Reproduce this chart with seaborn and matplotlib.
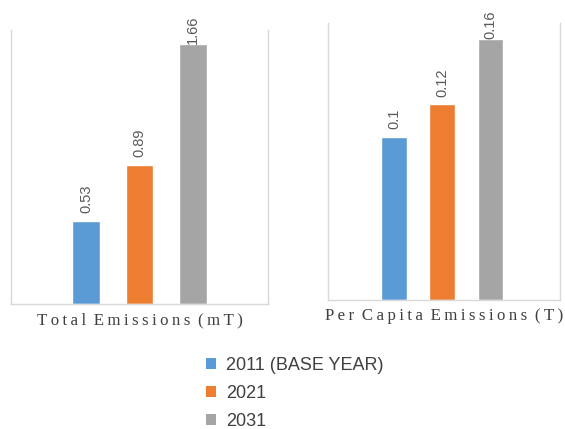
import pandas as pd
import matplotlib.pyplot as plt
import seaborn as sns
from matplotlib.patches import Patch

# Данные
years = ['2011 (BASE YEAR)', '2021', '2031']
total_emissions = [0.53, 0.89, 1.66]
per_capita = [0.1, 0.12, 0.16]
labels_total = ['0.53', '0.89', '1.66']
labels_capita = ['0.1', '0.12', '0.16']
colors = ['#5B9BD5', '#ED7D31', '#A5A5A5']

sns.set_style('white')
plt.rcParams['font.family'] = ['Liberation Sans', 'DejaVu Sans']

fig = plt.figure(figsize=(5.65, 4.29), dpi=100)
ax1 = fig.add_axes([0.0195, 0.2914, 0.455, 0.639])
ax2 = fig.add_axes([0.5805, 0.3007, 0.411, 0.6457])

panels = [
    (ax1, total_emissions, labels_total, 'Total Emissions (mT)', 1.75, (-1.40, 3.40), 0.52),
    (ax2, per_capita, labels_capita, 'Per Capita Emissions (T)', 0.17, (-1.38, 3.45), 0.54),
]

# разреженный текст подписи оси (как в оригинале)
def spaced(s):
    out = ''
    for i, ch in enumerate(s):
        out += ch
        if i < len(s) - 1:
            out += '\u2009'
    return out.replace('\u2009 \u2009', ' \u2009')

for ax, vals, labs, title, ymax, xlim, w in panels:
    df = pd.DataFrame({'year': years, 'value': vals})
    sns.barplot(data=df, x='year', y='value', hue='year', palette=colors,
                width=w, legend=False, ax=ax, saturation=1)
    ax.set_ylim(0, ymax)
    ax.set_xlim(*xlim)
    for i, (bar, lab) in enumerate(zip(ax.patches, labs)):
        # у самого высокого столбца подпись прижата к краю области
        pad = 0 if i == len(labs) - 1 else 5.5
        ax.annotate(lab, (bar.get_x() + bar.get_width() / 2, bar.get_height()),
                    xytext=(0, pad), textcoords='offset points', rotation=90,
                    ha='center', va='bottom', fontsize=10.5, color='#595959')
    ax.set_xticks([])
    ax.set_yticks([])
    ax.set_ylabel('')
    ax.set_xlabel(spaced(title), family='Liberation Serif', fontsize=12.2,
                  color='#404040', labelpad=6)
    ax.spines['top'].set_visible(False)
    for s in ['left', 'right', 'bottom']:
        ax.spines[s].set_color('#D9D9D9')
        ax.spines[s].set_linewidth(1)

handles = [Patch(facecolor=c, edgecolor='none') for c in colors]
fig.legend(handles, years, loc='center left', bbox_to_anchor=(0.336, 0.083),
           frameon=False, fontsize=13, handlelength=0.55, handleheight=0.55,
           handletextpad=0.55, labelspacing=0.62, labelcolor='#404040')

fig.savefig('out.png', dpi=100)
